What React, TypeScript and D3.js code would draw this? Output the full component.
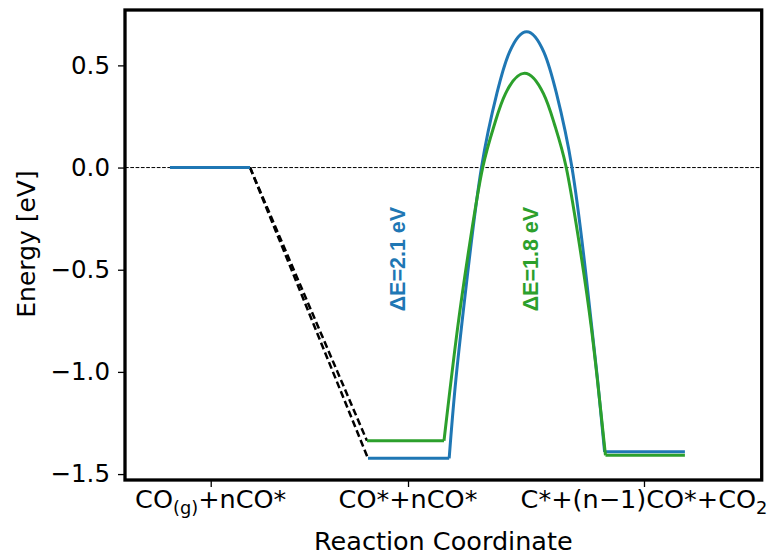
import React, { useEffect, useRef } from "react";
import * as d3 from "d3";

// values (x is in arbitrary reaction-coordinate units)
const yTicks = [0.5, 0.0, -0.5, -1.0, -1.5];
const xTicks = [1.077, 3.556, 6.521];
const xTickLabels = [
  [{ t: "CO" }, { t: "(g)", sub: true }, { t: "+nCO*" }],
  [{ t: "CO*+nCO*" }],
  [{ t: "C*+(n\u22121)CO*+CO" }, { t: "2", sub: true }],
];

// flat levels: [xStart, xEnd, energy]
const blueLevels = [
  [0.565, 1.571, 0.0],
  [3.053, 4.073, -1.423],
  [6.026, 7.035, -1.391],
];
const greenLevels = [
  [3.04, 4.008, -1.337],
  [6.037, 7.035, -1.408],
];

// dashed adsorption connectors: [x1, y1, x2, y2]
const connectors = [
  [1.571, 0.0, 3.053, -1.423],
  [1.571, 0.0, 3.04, -1.337],
];

// barrier curves: [x, energy]
const blueBarrier = [
  [4.073, -1.423], [4.158, -1.035], [4.3, -0.535], [4.479, 0.0],
  [4.674, 0.365], [4.831, 0.565], [5.047, 0.665], [5.263, 0.565],
  [5.42, 0.365], [5.616, 0.0], [5.795, -0.535], [5.937, -1.035],
  [6.026, -1.391],
];
const greenBarrier = [
  [4.008, -1.337], [4.178, -0.788], [4.345, -0.338], [4.497, 0.004],
  [4.643, 0.212], [4.781, 0.362], [5.02, 0.462], [5.258, 0.362],
  [5.396, 0.212], [5.542, 0.004], [5.694, -0.338], [5.861, -0.788],
  [6.037, -1.408],
];

const annotations = [
  { text: "\u0394E=2.1 eV", x: 3.524, y: -0.448, color: "#1f77b4" },
  { text: "\u0394E=1.8 eV", x: 5.193, y: -0.448, color: "#2ca02c" },
];

const BLUE = "#1f77b4";
const GREEN = "#2ca02c";

const App = () => {
  const ref = useRef(null);

  useEffect(() => {
    const width = 772, height = 556;
    const m = { left: 125, right: 761.7, top: 10, bottom: 480 };

    const svg = d3.select(ref.current)
      .attr("width", width)
      .attr("height", height);
    svg.selectAll("*").remove();

    const x = d3.scaleLinear().domain([0, 8]).range([m.left, m.right]);
    const y = d3.scaleLinear().domain([0.771, -1.529]).range([m.top, m.bottom]);

    // zero reference line
    svg.append("line")
      .attr("x1", x(0)).attr("x2", x(8))
      .attr("y1", y(0)).attr("y2", y(0))
      .attr("stroke", "black")
      .attr("stroke-width", 1)
      .attr("stroke-dasharray", "3.7,1.6");

    // dashed connectors
    svg.selectAll(".conn")
      .data(connectors)
      .enter()
      .append("line")
      .attr("x1", d => x(d[0])).attr("y1", d => y(d[1]))
      .attr("x2", d => x(d[2])).attr("y2", d => y(d[3]))
      .attr("stroke", "black")
      .attr("stroke-width", 2.5)
      .attr("stroke-dasharray", "7,3.5");

    const curve = d3.line()
      .x(d => x(d[0]))
      .y(d => y(d[1]))
      .curve(d3.curveNatural);

    const drawSeries = (levels, barrier, color) => {
      svg.append("g")
        .selectAll("line")
        .data(levels)
        .enter()
        .append("line")
        .attr("x1", d => x(d[0])).attr("x2", d => x(d[1]))
        .attr("y1", d => y(d[2])).attr("y2", d => y(d[2]))
        .attr("stroke", color)
        .attr("stroke-width", 3);
      svg.append("path")
        .datum(barrier)
        .attr("d", curve)
        .attr("fill", "none")
        .attr("stroke", color)
        .attr("stroke-width", 3)
        .attr("stroke-linejoin", "round");
    };
    drawSeries(blueLevels, blueBarrier, BLUE);
    drawSeries(greenLevels, greenBarrier, GREEN);

    // ΔE annotations
    svg.selectAll(".ann")
      .data(annotations)
      .enter()
      .append("text")
      .attr("transform", d => `translate(${x(d.x)},${y(d.y)}) rotate(-90)`)
      .attr("text-anchor", "middle")
      .attr("font-family", "Liberation Sans, Arial, sans-serif")
      .attr("font-weight", "bold")
      .attr("font-size", 21.5)
      .attr("fill", d => d.color)
      .text(d => d.text);

    // y axis
    const yAxis = svg.append("g")
      .attr("transform", `translate(${m.left},0)`)
      .call(d3.axisLeft(y).tickValues(yTicks).tickSize(7).tickPadding(8).tickFormat(d3.format(".1f")));
    yAxis.select(".domain").remove();
    yAxis.selectAll("line").attr("stroke-width", 1.3);
    yAxis.selectAll("text")
      .attr("font-family", "DejaVu Sans")
      .attr("font-size", 24.5)
      .attr("fill", "black");

    // x axis
    const xAxis = svg.append("g")
      .attr("transform", `translate(0,${m.bottom})`)
      .call(d3.axisBottom(x).tickValues(xTicks).tickSize(7).tickFormat(() => ""));
    xAxis.select(".domain").remove();
    xAxis.selectAll("line").attr("stroke-width", 1.3);

    xTicks.forEach((v, i) => {
      const t = svg.append("text")
        .attr("x", x(v))
        .attr("y", 508)
        .attr("text-anchor", "middle")
        .attr("font-family", "DejaVu Sans")
        .attr("font-size", 25.5);
      let shifted = false;
      xTickLabels[i].forEach(p => {
        const ts = t.append("tspan").text(p.t);
        if (p.sub) {
          ts.attr("font-size", 17.8).attr("dy", 5.5);
          shifted = true;
        } else if (shifted) {
          ts.attr("dy", -5.5);
          shifted = false;
        }
      });
    });

    // axis labels
    svg.append("text")
      .attr("x", (m.left + m.right) / 2)
      .attr("y", 550)
      .attr("text-anchor", "middle")
      .attr("font-family", "DejaVu Sans")
      .attr("font-size", 25.5)
      .text("Reaction Coordinate");

    svg.append("text")
      .attr("transform", `translate(35,244) rotate(-90)`)
      .attr("text-anchor", "middle")
      .attr("font-family", "DejaVu Sans")
      .attr("font-size", 25)
      .text("Energy [eV]");

    // frame
    svg.append("rect")
      .attr("x", m.left).attr("y", m.top)
      .attr("width", m.right - m.left)
      .attr("height", m.bottom - m.top)
      .attr("fill", "none")
      .attr("stroke", "black")
      .attr("stroke-width", 3.3);
  }, []);

  return (
    <svg ref={ref} style={{ position: "absolute", left: 0, top: 0, background: "white" }}></svg>
  );
};

export default App;
